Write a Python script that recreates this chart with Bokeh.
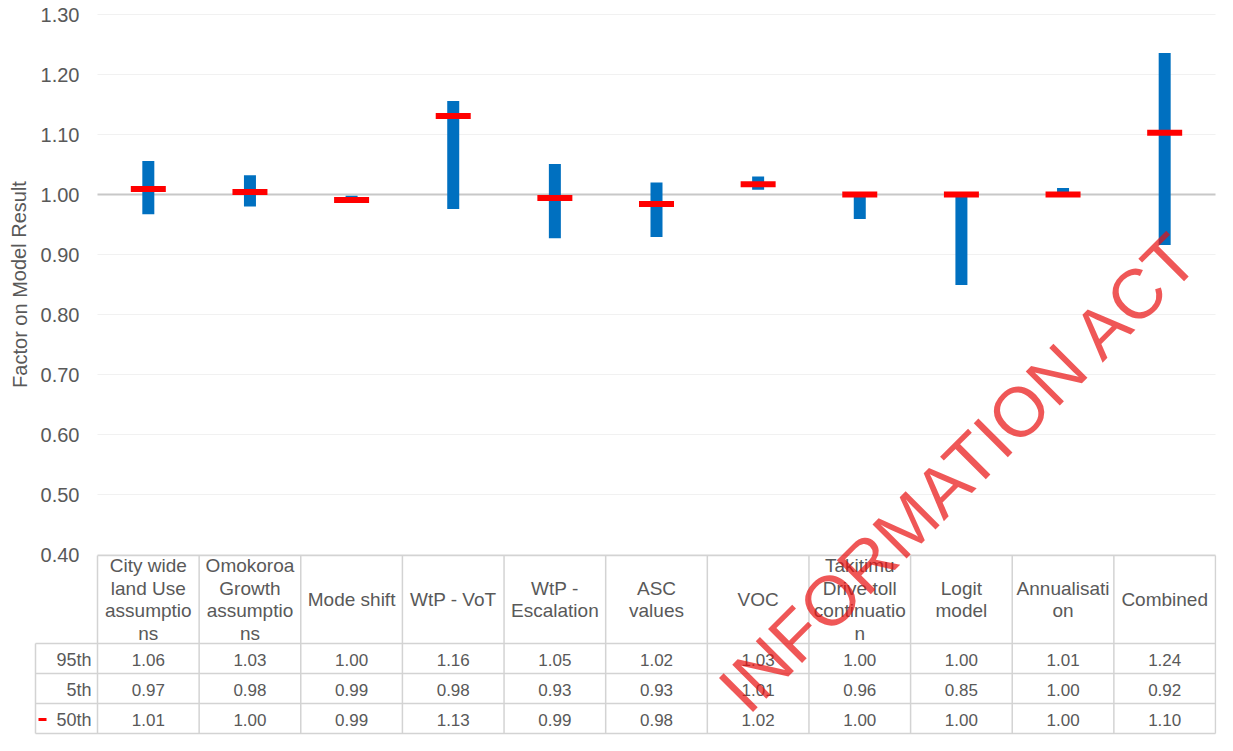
from bokeh.plotting import figure
from bokeh.models import Range1d, FixedTicker, NumeralTickFormatter, Label
from bokeh.embed import file_html
from bokeh.resources import INLINE
from bokeh.core.properties import value

# ---------------- data ----------------
categories = ["City wide land Use assumptions", "Omokoroa Growth assumptions", "Mode shift",
              "WtP - VoT", "WtP - Escalation", "ASC values", "VOC",
              "Takitimu Drive toll continuation", "Logit model", "Annualisation", "Combined"]
header_labels = ["City wide\nland Use\nassumptio\nns", "Omokoroa\nGrowth\nassumptio\nns", "Mode shift",
                 "WtP - VoT", "WtP -\nEscalation", "ASC\nvalues", "VOC",
                 "Takitimu\nDrive toll\ncontinuatio\nn", "Logit\nmodel", "Annualisati\non", "Combined"]
p95 = [1.056, 1.032, 0.998, 1.156, 1.051, 1.020, 1.030, 1.000, 1.000, 1.011, 1.236]
p5 = [0.967, 0.980, 0.990, 0.976, 0.927, 0.929, 1.008, 0.959, 0.849, 1.000, 0.916]
p50 = [1.009, 1.004, 0.991, 1.131, 0.994, 0.984, 1.017, 1.000, 1.000, 1.000, 1.103]
row_names = ["95th", "5th", "50th"]
y_ticks = [0.40, 0.50, 0.60, 0.70, 0.80, 0.90, 1.00, 1.10, 1.20, 1.30]
y_title = "Factor on Model Result"
watermark = "INFORMATION ACT"

# ---------------- layout helpers (figure pixels) ----------------
FIG_W, FIG_H = 1217, 735
FL, FR = 6, 1216             # frame left / right
CAT_L, CAT_R = 97, 1215      # category columns span
W = (CAT_R - CAT_L) / 11.0
X0 = -(CAT_L - FL) / W
X1 = 11 + (FR - CAT_R) / W
TOP_PX, PX_PER_UNIT = 14, 600.0
TOP_VAL = y_ticks[-1]


def fy2v(fy):
    return TOP_VAL - (fy - TOP_PX) / PX_PER_UNIT


def fx2x(fx):
    return (fx - CAT_L) / W


p = figure(width=FIG_W, height=FIG_H, x_range=Range1d(X0, X1),
           y_range=Range1d(fy2v(FIG_H), fy2v(0)),
           output_backend="svg", toolbar_location=None, x_axis_location=None,
           min_border_left=FL, min_border_right=FIG_W - FR, min_border_top=0, min_border_bottom=0)
p.outline_line_color = None
p.xgrid.visible = False
p.ygrid.visible = False
p.background_fill_color = "white"
p.border_fill_color = "white"

FONT = "Liberation Sans"
GREY = "#595959"

ax = p.yaxis[0]
ax.ticker = FixedTicker(ticks=y_ticks)
ax.formatter = NumeralTickFormatter(format="0.00")
ax.axis_line_color = None
ax.major_tick_line_color = None
ax.minor_tick_line_color = None
ax.major_tick_out = 0
ax.major_tick_in = 0
ax.major_label_standoff = -(79 - FL)
ax.major_label_text_font_size = "20px"
ax.major_label_text_font = FONT
ax.major_label_text_color = GREY

n = len(categories)
xc = [i + 0.5 for i in range(n)]

# gridlines and 1.00 axis line
grid_y = [t for t in y_ticks if abs(t - 1.0) > 1e-9]
p.segment(x0=[0] * len(grid_y), x1=[n] * len(grid_y), y0=grid_y, y1=grid_y,
          line_color="#f1f1f1", line_width=1)
p.segment(x0=[0], x1=[n], y0=[1.0], y1=[1.0], line_color="#c8c8c8", line_width=2)

# range bars and medians
p.vbar(x=xc, width=12 / W, bottom=p5, top=p95, fill_color="#0070c0", line_color=None)
p.rect(x=xc, y=p50, width=35 / W, height=6, height_units="screen",
       fill_color="#ff0000", line_color=None)

# ---------------- data table ----------------
hdr_top, hdr_bot = 555, 643
row_h = 30
row_edges = [hdr_bot + k * row_h for k in range(len(row_names) + 1)]
lx = fx2x(35)
bx0, by0, bx1, by1 = [], [], [], []
bx0.append(0); bx1.append(n); by0.append(fy2v(hdr_top)); by1.append(fy2v(hdr_top))
for e in row_edges:
    bx0.append(lx); bx1.append(n); by0.append(fy2v(e)); by1.append(fy2v(e))
for i in range(n + 1):
    bx0.append(i); bx1.append(i); by0.append(fy2v(hdr_top)); by1.append(fy2v(row_edges[-1]))
bx0.append(lx); bx1.append(lx); by0.append(fy2v(row_edges[0])); by1.append(fy2v(row_edges[-1]))
p.segment(x0=bx0, x1=bx1, y0=by0, y1=by1, line_color="#d3d3d3", line_width=1.5)

p.text(x=xc, y=[fy2v((hdr_top + hdr_bot) / 2)] * n, text=header_labels,
       text_font=value(FONT), text_font_size="19px", text_color=GREY,
       text_align="center", text_baseline="middle", text_line_height=1.08)

for r, series in enumerate([p95, p5, p50]):
    yc = fy2v((row_edges[r] + row_edges[r + 1]) / 2 + 1)
    p.text(x=xc, y=[yc] * n, text=[f"{v:.2f}" for v in series],
           text_font=value(FONT), text_font_size="17px", text_color=GREY,
           text_align="center", text_baseline="middle")
    p.text(x=[fx2x(91)], y=[yc], text=[row_names[r]],
           text_font=value(FONT), text_font_size="18px", text_color=GREY,
           text_align="right", text_baseline="middle")

# legend key for the median marker
ky = fy2v((row_edges[2] + row_edges[3]) / 2 + 1)
p.segment(x0=[fx2x(38)], x1=[fx2x(46)], y0=[ky], y1=[ky], line_color="#ff0000", line_width=3)

# y axis title
p.add_layout(Label(x=fx2x(19), y=(y_ticks[0] + y_ticks[-1]) / 2, text=y_title, angle=1.5708,
                   text_align="center", text_baseline="middle", text_font=FONT,
                   text_font_size="20px", text_color=GREY))

# watermark
p.add_layout(Label(x=fx2x(731), y=fy2v(699), text=watermark, angle=0.785,
                   text_align="left", text_baseline="middle", text_font=FONT,
                   text_font_size="70px", text_color="#e81010", text_alpha=0.7))

open("out.html", "w").write(file_html(p, INLINE))
